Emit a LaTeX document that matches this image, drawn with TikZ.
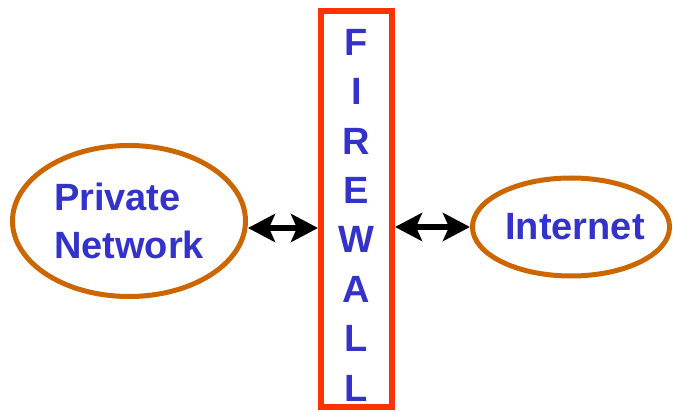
\documentclass[tikz,border=0pt]{standalone}
\usepackage{fontspec}
\setmainfont{Liberation Sans}
\usetikzlibrary{shapes.geometric, positioning, arrows.meta}

\definecolor{wallred}{HTML}{FF3300}
\definecolor{ovalbrown}{HTML}{CC6600}
\definecolor{labelblue}{HTML}{3333CC}

\tikzset{
    net/.style = {ellipse, draw = ovalbrown, line width = 5pt, inner sep = 0pt,
        text = labelblue, font = \fontsize{38}{48}\selectfont\bfseries},
    wall/.style = {rectangle, draw = wallred, line width = 6pt,
        minimum width = 71pt, minimum height = 396pt},
    link/.style = {{Stealth[length=27pt, width=28pt, inset=6pt]}-{Stealth[length=27pt, width=28pt, inset=6pt]},
        line width = 5.5pt, black}
}

\begin{document}
\begin{tikzpicture}
    \useasboundingbox (-356.5pt,209pt) rectangle (316.5pt,-203pt);

    \node (fw) [wall] at (0,0) {};
    \node (fwtext) [below = 21pt of fw.north, inner sep = 0pt, align = center,
        text = labelblue, font = \fontsize{38}{49.4}\selectfont\bfseries]
        {F\\I\\R\\E\\W\\A\\L\\L};
    \node (pn) [net, align = left, minimum width = 233pt, minimum height = 151pt,
        left = 70pt of fw, yshift = -12pt] {Private\\Network};
    \node (inet) [net, minimum width = 197pt, minimum height = 98pt, inner xsep = -4pt,
        right = 75pt of fw, yshift = -18pt] {\hspace*{8pt}Internet};

    \draw [link] ([yshift=-7pt]pn.east) -- ([yshift=-7pt]pn.east -| fw.west);
    \draw [link] (inet.west) -- (inet.west -| fw.east);
\end{tikzpicture}
\end{document}
